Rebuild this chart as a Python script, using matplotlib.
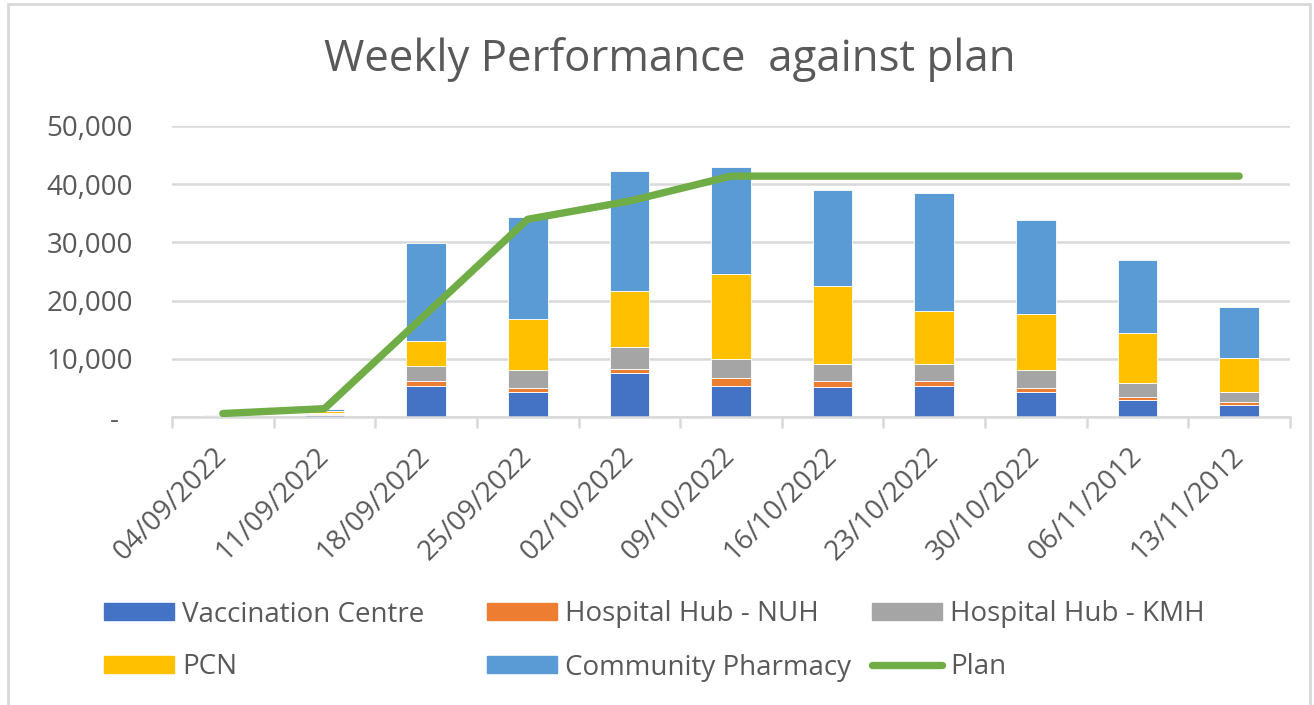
import numpy as np
import matplotlib.pyplot as plt
from matplotlib.patches import Rectangle
from matplotlib.lines import Line2D
from matplotlib.ticker import FuncFormatter

plt.rcParams['font.family'] = ['Open Sans', 'DejaVu Sans']

weeks = ['04/09/2022', '11/09/2022', '18/09/2022', '25/09/2022', '02/10/2022',
         '09/10/2022', '16/10/2022', '23/10/2022', '30/10/2022', '06/11/2012',
         '13/11/2012']

vacc_centre = [60, 350, 5380, 4280, 7480, 5380, 5090, 5380, 4280, 2980, 2120]
hub_nuh = [20, 200, 730, 750, 800, 1300, 1020, 730, 750, 510, 520]
hub_kmh = [30, 100, 2690, 2970, 3710, 3200, 3030, 3030, 2970, 2400, 1640]
pcn = [40, 300, 4280, 8780, 9650, 14670, 13290, 9010, 9640, 8490, 5820]
comm_pharmacy = [250, 350, 16830, 17640, 20600, 18490, 16610, 20330, 16260, 12570, 8860]
plan = [600, 1430, 17700, 33970, 37100, 41390, 41390, 41390, 41390, 41390, 41390]

series = [
    ('Vaccination Centre', vacc_centre, '#4472C4'),
    ('Hospital Hub - NUH', hub_nuh, '#ED7D31'),
    ('Hospital Hub - KMH', hub_kmh, '#A5A5A5'),
    ('PCN', pcn, '#FFC000'),
    ('Community Pharmacy', comm_pharmacy, '#5B9BD5'),
]
plan_col = '#70AD47'
txt_col = '#595959'
grid_col = '#D9D9D9'
fs = 20

W, H = 1314, 705
fig = plt.figure(figsize=(W / 100, H / 100), dpi=100)
ax = fig.add_axes([172 / W, 1 - 417 / H, (1290 - 172) / W, (417 - 126) / H])

x = np.arange(len(weeks))
bottom = np.zeros(len(weeks))
handles = []
for name, vals, col in series:
    ax.bar(x, vals, width=0.39, bottom=bottom, color=col, edgecolor='white',
           linewidth=0.6, zorder=2)
    bottom += np.array(vals)
    handles.append(Rectangle((0, 0), 1, 1, color=col, label=name))

ax.plot(x, plan, color=plan_col, linewidth=5.3, solid_capstyle='round',
        solid_joinstyle='round', zorder=3)
handles.append(Line2D([], [], color=plan_col, linewidth=5.3,
                      solid_capstyle='round', label='Plan'))

ax.set_xlim(-0.5, len(weeks) - 0.5)
ax.set_ylim(0, 50000)
ax.set_yticks(np.arange(0, 50001, 10000))
ax.yaxis.set_major_formatter(FuncFormatter(lambda v, p: '-  ' if v == 0 else f'{int(v):,}'))
ax.grid(axis='y', color=grid_col, linewidth=1.8, zorder=0)
ax.set_axisbelow(True)

ax.set_xticks(x)
ax.set_xticklabels(weeks, rotation=45, ha='right', va='center', rotation_mode='anchor')
ax.set_xticks(np.arange(-0.5, len(weeks), 1), minor=True)
ax.tick_params(axis='x', which='major', length=0, pad=25, labelsize=fs, labelcolor=txt_col)
ax.tick_params(axis='x', which='minor', length=8, width=1.8, color=grid_col)
ax.tick_params(axis='y', length=0, pad=28, labelsize=fs, labelcolor=txt_col)

for s in ['top', 'right', 'left']:
    ax.spines[s].set_visible(False)
ax.spines['bottom'].set_color(grid_col)
ax.spines['bottom'].set_linewidth(1.8)

fig.text(670 / W, 1 - 60 / H, 'Weekly Performance  against plan', ha='center',
         va='center', fontsize=31.5, color=txt_col)

# legend: three columns, each with two rows
columns = [(104, [0, 3]), (487, [1, 4]), (872, [2, 5])]
for xpos, idx in columns:
    fig.legend([handles[i] for i in idx], [handles[i].get_label() for i in idx],
               loc='center left', bbox_to_anchor=(xpos / W, 1 - 641 / H),
               frameon=False, fontsize=fs, labelcolor=txt_col, borderpad=0,
               borderaxespad=0,
               handlelength=70 / (fs * 1.389), handleheight=15.6 / (fs * 1.389),
               handletextpad=0.3, labelspacing=0.9)

fig.patches.append(Rectangle((8 / W, -0.05), (1310 - 8) / W, 1 - 4 / H + 0.05,
                             transform=fig.transFigure, fill=False,
                             edgecolor='#D9D9D9', linewidth=2))

plt.savefig('out.png', dpi=100)
